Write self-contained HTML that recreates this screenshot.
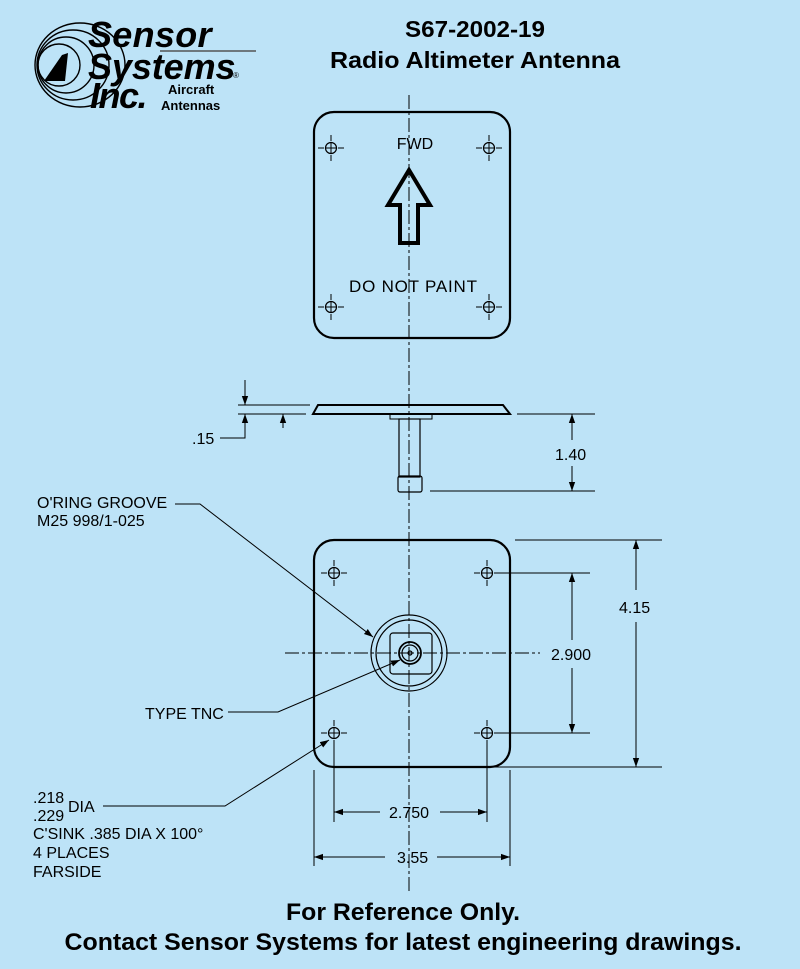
<!DOCTYPE html>
<html><head><style>
html,body{margin:0;padding:0;background:#bde3f7;}
svg{display:block}
text{font-family:"Liberation Sans",Arial,sans-serif;fill:#000}
</style></head><body>
<svg width="800" height="969" viewBox="0 0 800 969" xmlns="http://www.w3.org/2000/svg">
<defs>
<marker id="a" viewBox="0 0 10 10" refX="10" refY="5" markerWidth="9" markerHeight="9" orient="auto-start-reverse" markerUnits="userSpaceOnUse"><path d="M0,1.5 L10,5 L0,8.5z" fill="#000"/></marker>
<g id="h"><circle r="5.5" fill="none" stroke="#000" stroke-width="1.2"/><path d="M-13,0h6M-5,0h10M7,0h6M0,-13v6M0,-5v10M0,7v6" stroke="#000" stroke-width="1"/></g>
</defs>
<rect width="800" height="969" fill="#bde3f7"/>
<!-- logo -->
<g fill="none" stroke="#000" stroke-width="1.4">
<ellipse cx="80" cy="65" rx="45" ry="42"/><ellipse cx="73" cy="65" rx="36" ry="35"/><ellipse cx="66" cy="65" rx="28" ry="28"/><ellipse cx="59" cy="65" rx="21" ry="21"/>
</g>
<path d="M44,81 L62,55 L68,53 L65,81z" fill="#000"/>
<line x1="160" y1="51" x2="256" y2="51" stroke="#555" stroke-width="1.5"/>
<text x="88" y="47" font-size="36" font-weight="bold" font-style="italic" letter-spacing="-1.5" textLength="122">Sensor</text>
<text x="88" y="79" font-size="36" font-weight="bold" font-style="italic" letter-spacing="-1.5" textLength="146">Systems</text>
<text x="233" y="78" font-size="8">®</text>
<text x="90" y="108" font-size="36" font-weight="bold" font-style="italic" letter-spacing="-1.5">Inc.</text>
<text x="168" y="94" font-size="13" font-weight="bold">Aircraft</text>
<text x="161" y="110" font-size="13" font-weight="bold">Antennas</text>
<text x="475" y="37" font-size="23" font-weight="bold" text-anchor="middle" textLength="140" lengthAdjust="spacingAndGlyphs">S67-2002-19</text>
<text x="475" y="68" font-size="23" font-weight="bold" text-anchor="middle" textLength="290" lengthAdjust="spacingAndGlyphs">Radio Altimeter Antenna</text>
<!-- center line -->
<line x1="409" y1="95" x2="409" y2="892" stroke="#000" stroke-width="1" stroke-dasharray="14,3,3,3"/>
<!-- top plate -->
<rect x="314" y="112" width="196" height="226" rx="20" fill="none" stroke="#000" stroke-width="2.2"/>
<use href="#h" x="331" y="148"/><use href="#h" x="489" y="148"/><use href="#h" x="331" y="307"/><use href="#h" x="489" y="307"/>
<text x="415" y="149" font-size="16" text-anchor="middle">FWD</text>
<path d="M409,170 L430,205 L418,205 L418,243 L400,243 L400,205 L388,205z" fill="none" stroke="#000" stroke-width="4" stroke-linejoin="miter"/>
<text x="413" y="292" font-size="17" text-anchor="middle" textLength="128">DO NOT PAINT</text>
<!-- side view -->
<path d="M318,405 L503,405 L510,414 L313,414z" fill="none" stroke="#000" stroke-width="2"/>
<rect x="390" y="414" width="42" height="5" fill="none" stroke="#000" stroke-width="1"/>
<rect x="399" y="419" width="21" height="58" fill="none" stroke="#000" stroke-width="1.2"/>
<rect x="398" y="476" width="24" height="16" rx="2" fill="none" stroke="#000" stroke-width="1.2"/>
<g stroke="#000" stroke-width="1" fill="none">
<line x1="238" y1="405" x2="310" y2="405"/><line x1="238" y1="414" x2="306" y2="414"/>
<line x1="245" y1="380" x2="245" y2="405" marker-end="url(#a)"/>
<line x1="283" y1="428" x2="283" y2="414" marker-end="url(#a)"/>
<path d="M220,438 H245 V414" marker-end="url(#a)"/>
<line x1="517" y1="414" x2="595" y2="414"/><line x1="430" y1="491" x2="595" y2="491"/>
<line x1="572" y1="440" x2="572" y2="414" marker-end="url(#a)"/>
<line x1="572" y1="466" x2="572" y2="491" marker-end="url(#a)"/>
</g>
<text x="192" y="444" font-size="16">.15</text>
<text x="555" y="460" font-size="16">1.40</text>
<!-- bottom view -->
<rect x="314" y="540" width="196" height="227" rx="20" fill="none" stroke="#000" stroke-width="2.2"/>
<line x1="285" y1="653" x2="540" y2="653" stroke="#000" stroke-width="1" stroke-dasharray="14,3,3,3"/>
<use href="#h" x="334" y="573"/><use href="#h" x="487" y="573"/><use href="#h" x="334" y="733"/><use href="#h" x="487" y="733"/>
<g fill="none" stroke="#000" stroke-width="1.2">
<circle cx="409" cy="653" r="38"/><circle cx="409" cy="653" r="33"/>
<rect x="390" y="633" width="42" height="41" rx="3"/>
<circle cx="410" cy="653" r="11" stroke-width="1.8"/><circle cx="410" cy="653" r="8"/><circle cx="410" cy="653" r="2"/>
</g>
<g stroke="#000" stroke-width="1" fill="none">
<line x1="515" y1="540" x2="662" y2="540"/><line x1="495" y1="767" x2="662" y2="767"/>
<line x1="636" y1="590" x2="636" y2="540" marker-end="url(#a)"/><line x1="636" y1="622" x2="636" y2="767" marker-end="url(#a)"/>
<line x1="500" y1="573" x2="590" y2="573"/><line x1="500" y1="733" x2="590" y2="733"/>
<line x1="572" y1="640" x2="572" y2="573" marker-end="url(#a)"/><line x1="572" y1="668" x2="572" y2="733" marker-end="url(#a)"/>
<line x1="334" y1="745" x2="334" y2="822"/><line x1="487" y1="745" x2="487" y2="822"/>
<line x1="380" y1="812" x2="334" y2="812" marker-end="url(#a)"/><line x1="440" y1="812" x2="487" y2="812" marker-end="url(#a)"/>
<line x1="314" y1="770" x2="314" y2="866"/><line x1="510" y1="770" x2="510" y2="866"/>
<line x1="385" y1="857" x2="314" y2="857" marker-end="url(#a)"/><line x1="437" y1="857" x2="510" y2="857" marker-end="url(#a)"/>
<path d="M175,504 H200 L373,637" marker-end="url(#a)"/>
<path d="M228,712 H278 L400,660" marker-end="url(#a)"/>
<path d="M103,806 H225 L329,740" marker-end="url(#a)"/>
</g>
<text x="619" y="613" font-size="16">4.15</text>
<text x="551" y="660" font-size="16">2.900</text>
<text x="389" y="818" font-size="16">2.750</text>
<text x="397" y="863" font-size="16">3.55</text>
<text x="37" y="508" font-size="16">O'RING GROOVE</text>
<text x="37" y="526" font-size="16">M25 998/1-025</text>
<text x="145" y="719" font-size="16">TYPE TNC</text>
<text x="33" y="803" font-size="16">.218</text>
<text x="68" y="812" font-size="16">DIA</text>
<text x="33" y="821" font-size="16">.229</text>
<text x="33" y="839" font-size="16">C'SINK .385 DIA X 100°</text>
<text x="33" y="858" font-size="16">4 PLACES</text>
<text x="33" y="877" font-size="16">FARSIDE</text>
<text x="403" y="920" font-size="24" font-weight="bold" text-anchor="middle" textLength="234" lengthAdjust="spacingAndGlyphs">For Reference Only.</text>
<text x="403" y="950" font-size="24" font-weight="bold" text-anchor="middle" textLength="677" lengthAdjust="spacingAndGlyphs">Contact Sensor Systems for latest engineering drawings.</text>
</svg>
</body></html>
